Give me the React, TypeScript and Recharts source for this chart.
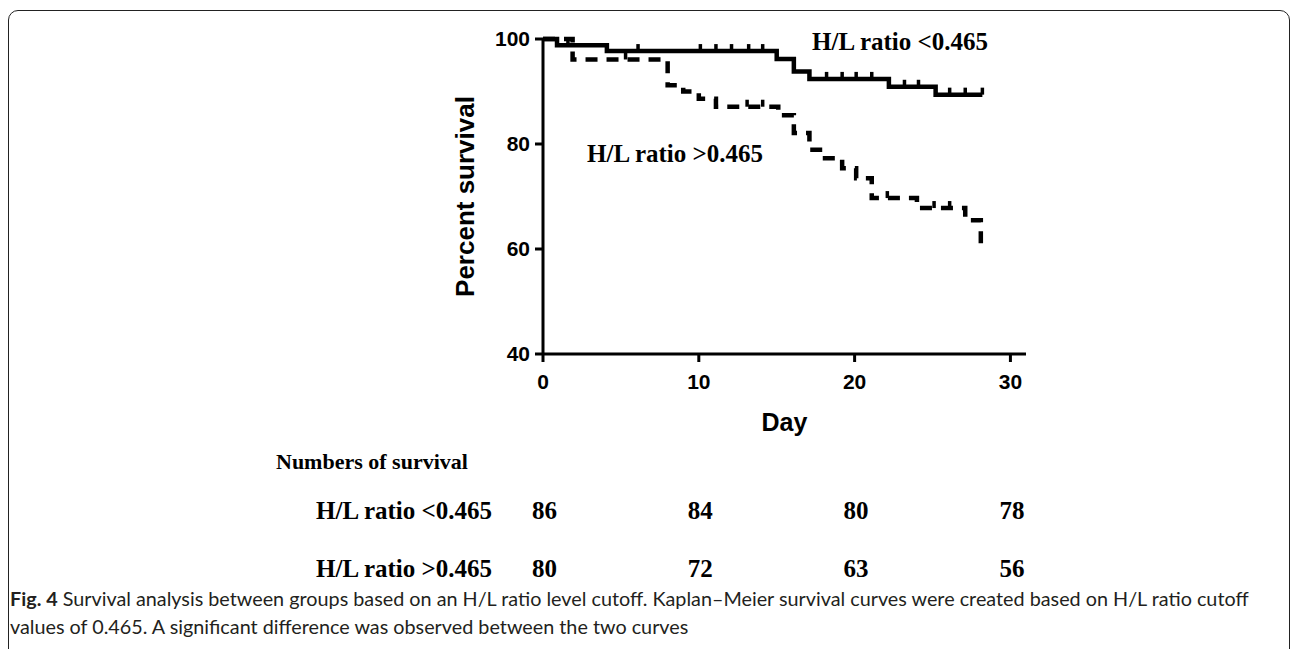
import React from 'react';
import { ComposedChart, Line, Scatter, XAxis, YAxis } from 'recharts';

// Kaplan-Meier steps (day, percent survival)
const lowDays = [0, 0.9, 4.1, 15.0, 16.1, 17.1, 22.2, 25.2, 28.2];
const lowSurv = [100, 98.8, 97.7, 96.2, 93.8, 92.4, 90.9, 89.4, 89.4];

const highDays = [0, 1.9, 8.0, 9.0, 10.0, 11.1, 15.1, 16.1, 17.1, 18.1, 19.2, 20.1, 21.1, 24.0, 27.1, 28.1];
const highSurv = [100, 96.1, 91.2, 90.0, 88.6, 87.1, 85.5, 82.1, 78.9, 77.3, 75.4, 73.5, 69.7, 67.8, 65.5, 61.1];

// censored observations
const lowCensorDays = [1.6, 6.1, 10.1, 11.1, 12.1, 13.2, 14.1, 18.2, 19.2, 20.1, 21.1, 23.2, 24.1, 26.1, 27.1, 28.2];
const lowCensorSurv = [98.8, 97.7, 97.7, 97.7, 97.7, 97.7, 97.7, 92.4, 92.4, 92.4, 92.4, 90.9, 90.9, 89.4, 89.4, 89.4];
const highCensorDays = [5.3, 13.1, 14.1, 22.1, 25.1, 26.1];
const highCensorSurv = [96.1, 87.1, 87.1, 69.7, 67.8, 67.8];

const xTicks = [0, 10, 20, 30];
const yTicks = [40, 60, 80, 100];

// numbers at risk
const riskDays = [0, 10, 20, 30];
const groupLabels = ['H/L ratio <0.465', 'H/L ratio >0.465'];
const lowRisk = [86, 84, 80, 78];
const highRisk = [80, 72, 63, 56];

const toRows = (days: number[], surv: number[]) => days.map((d, i) => ({ day: d, surv: surv[i] }));

const lowData = toRows(lowDays, lowSurv);
const highData = toRows(highDays, highSurv);
const lowCensor = toRows(lowCensorDays, lowCensorSurv);
const highCensor = toRows(highCensorDays, highCensorSurv);

const PLOT_LEFT = 543;
const PLOT_RIGHT = 1026;
const X_MAX = 31;
const pxPerDay = (PLOT_RIGHT - PLOT_LEFT) / X_MAX;

const CensorTick = (props: any) => {
  const { cx, cy } = props;
  if (cx == null || cy == null) return null;
  return <line x1={cx} x2={cx} y1={cy} y2={cy - 7} stroke="#000" strokeWidth={3.5} />;
};

const serif = '"Liberation Serif", "Times New Roman", serif';
const sans = '"Liberation Sans", Arial, sans-serif';

const textAt = (left: number, cy: number, size: number, content: string, extra: any = {}) => (
  <div
    style={{
      position: 'absolute',
      left,
      top: cy - size / 2,
      fontSize: size,
      lineHeight: `${size}px`,
      fontFamily: serif,
      fontWeight: 'bold',
      whiteSpace: 'nowrap',
      color: '#000',
      ...extra,
    }}
  >
    {content}
  </div>
);

export default function App() {
  const tickStyle = { fill: '#000', fontSize: 21, fontWeight: 'bold', fontFamily: sans };
  const axisStroke = { stroke: '#000', strokeWidth: 3 };

  return (
    <div style={{ position: 'fixed', left: 0, top: 0, width: 1295, height: 649, overflow: 'hidden', background: '#fff' }}>
      <div
        style={{
          position: 'absolute',
          left: 8,
          top: 10,
          width: 1282,
          height: 720,
          border: '1.5px solid #222',
          borderRadius: 10,
          boxSizing: 'border-box',
        }}
      />
      <div style={{ position: 'absolute', left: 0, top: 0 }}>
        <ComposedChart
          width={1295}
          height={460}
          margin={{ top: 39, right: 1295 - PLOT_RIGHT, bottom: 76, left: PLOT_LEFT - 80 }}
        >
          <XAxis
            dataKey="day"
            type="number"
            domain={[0, X_MAX]}
            ticks={xTicks}
            height={30}
            axisLine={axisStroke}
            tickLine={axisStroke}
            tickSize={8}
            tickMargin={12}
            tick={tickStyle}
            label={{ value: 'Day', position: 'bottom', offset: 29, style: { fill: '#000', fontSize: 25, fontWeight: 'bold', fontFamily: sans } }}
          />
          <YAxis
            dataKey="surv"
            type="number"
            domain={[40, 100]}
            ticks={yTicks}
            width={80}
            axisLine={axisStroke}
            tickLine={axisStroke}
            tickSize={8}
            tickMargin={5}
            tick={tickStyle}
            label={{
              value: 'Percent survival',
              angle: -90,
              position: 'insideLeft',
              offset: 2,
              style: { textAnchor: 'middle', fill: '#000', fontSize: 26, fontWeight: 'bold', fontFamily: sans },
            }}
          />
          <Line
            data={lowData}
            dataKey="surv"
            type="stepAfter"
            stroke="#000"
            strokeWidth={4.5}
            dot={false}
            activeDot={false}
            isAnimationActive={false}
          />
          <Line
            data={highData}
            dataKey="surv"
            type="stepAfter"
            stroke="#000"
            strokeWidth={4.5}
            strokeDasharray="12 9"
            dot={false}
            activeDot={false}
            isAnimationActive={false}
          />
          <Scatter data={lowCensor} dataKey="surv" shape={<CensorTick />} isAnimationActive={false} />
          <Scatter data={highCensor} dataKey="surv" shape={<CensorTick />} isAnimationActive={false} />
        </ComposedChart>
      </div>

      {textAt(812, 41, 25, groupLabels[0])}
      {textAt(587, 153, 25, groupLabels[1])}

      {textAt(276, 462, 22, 'Numbers of survival')}
      {textAt(316, 510, 25, groupLabels[0])}
      {textAt(316, 568, 25, groupLabels[1])}
      {riskDays.map((d, i) => (
        <React.Fragment key={d}>
          {textAt(PLOT_LEFT + d * pxPerDay - 11, 510, 25, String(lowRisk[i]))}
          {textAt(PLOT_LEFT + d * pxPerDay - 11, 568, 25, String(highRisk[i]))}
        </React.Fragment>
      ))}

      <div
        style={{
          position: 'absolute',
          left: 10,
          top: 584,
          fontFamily: 'Lato, "Open Sans", sans-serif',
          fontSize: 19.8,
          lineHeight: '28px',
          color: '#231f20',
          whiteSpace: 'nowrap',
        }}
      >
        <b>Fig. 4</b> Survival analysis between groups based on an H/L ratio level cutoff. Kaplan–Meier survival curves were created based on H/L ratio cutoff
        <br />
        values of 0.465. A significant difference was observed between the two curves
      </div>
    </div>
  );
}
